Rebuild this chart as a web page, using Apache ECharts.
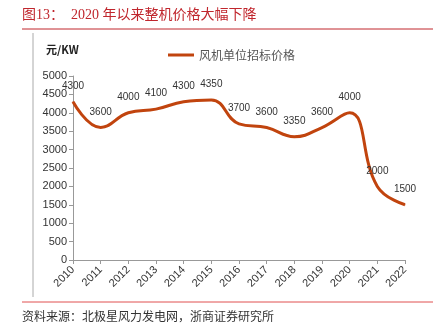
<!DOCTYPE html>
<html><head><meta charset="utf-8">
<script src="https://cdn.jsdelivr.net/npm/echarts@6/dist/echarts.min.js"></script>
<style>html,body{margin:0;padding:0;background:#fff}#c{width:448px;height:335px}</style>
</head><body><div id="c"></div>
<script>
const years = ['2010','2011','2012','2013','2014','2015','2016','2017','2018','2019','2020','2021','2022'];
const prices = [4300,3600,4000,4100,4300,4350,3700,3600,3350,3600,4000,2000,1500];
const seriesName = '风机单位招标价格';
const unitLabel = '元/KW';
const titleText = '图13：  2020 年以来整机价格大幅下降';
const sourceText = '资料来源：北极星风力发电网，浙商证券研究所';

const chart = echarts.init(document.getElementById('c'));
chart.setOption({
  animation:false,
  grid:{left:73,right:43,top:76,bottom:75},
  legend:{data:[seriesName],left:163,top:44,itemWidth:26,itemHeight:3,icon:'rect',
    textStyle:{fontFamily:'Noto Sans CJK SC',fontSize:12,color:'#555'}},
  xAxis:{type:'category',data:years,boundaryGap:false,
    axisLine:{lineStyle:{color:'#999'}},
    axisTick:{show:true,alignWithLabel:true,length:4,lineStyle:{color:'#999'}},
    axisLabel:{rotate:45,color:'#333',fontFamily:'Liberation Sans',fontSize:11,margin:8,interval:0}},
  yAxis:{type:'value',min:0,max:5000,interval:500,
    axisLine:{show:true,lineStyle:{color:'#999'}},
    axisTick:{show:true,length:4,lineStyle:{color:'#999'}},
    splitLine:{show:false},
    axisLabel:{color:'#333',fontFamily:'Liberation Sans',fontSize:11,margin:6,formatter:v=>String(v)}},
  series:[{name:seriesName,type:'line',data:prices,smooth:0.45,symbol:'circle',symbolSize:1,showSymbol:true,
    lineStyle:{color:'#C1440E',width:3},itemStyle:{color:'#C1440E'},
    label:{show:true,position:'top',distance:10,color:'#333',fontFamily:'Liberation Sans',fontSize:10}}],
  graphic:[
    {type:'text',left:22,top:8,style:{text:titleText,fill:'#C0262D',font:'14px "Liberation Serif","Noto Sans CJK SC"'}},
    {type:'line',shape:{x1:22,y1:29,x2:433,y2:29},style:{stroke:'#C0262D',lineWidth:1}},
    {type:'line',shape:{x1:33,y1:33,x2:33,y2:297},style:{stroke:'#aaa',lineWidth:1}},
    {type:'text',left:46,top:44,style:{text:unitLabel,fill:'#222',font:'bold 11px "Noto Sans CJK SC"'}},
    {type:'line',shape:{x1:22,y1:302,x2:433,y2:302},style:{stroke:'#E05050',lineWidth:1}},
    {type:'text',left:22,top:310,style:{text:sourceText,fill:'#333',font:'12px "Noto Sans CJK SC"'}}
  ]
});
</script></body></html>
